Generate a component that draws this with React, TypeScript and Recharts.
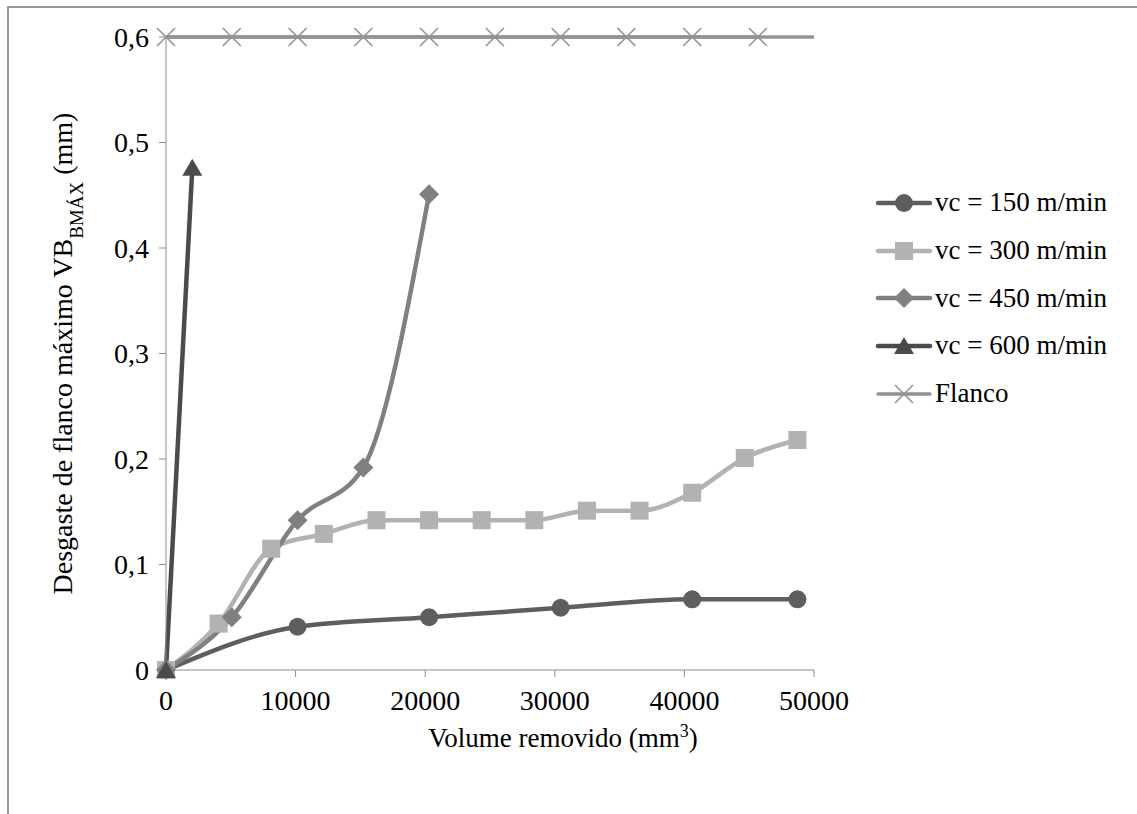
import React from "react";
import { LineChart, Line, XAxis, YAxis, ReferenceLine } from "recharts";

const FONT = '"Liberation Serif", "Times New Roman", serif';

// vc = 150 m/min
const vc150X = [0, 10150, 20300, 30450, 40600, 48720];
const vc150Y = [0, 0.041, 0.05, 0.059, 0.067, 0.067];

// vc = 300 m/min
const vc300X = [0, 4060, 8120, 12180, 16240, 20300, 24360, 28420, 32480, 36540, 40600, 44660, 48720];
const vc300Y = [0, 0.044, 0.115, 0.129, 0.142, 0.142, 0.142, 0.142, 0.151, 0.151, 0.168, 0.201, 0.218];

// vc = 450 m/min
const vc450X = [0, 5075, 10150, 15225, 20300];
const vc450Y = [0, 0.05, 0.142, 0.192, 0.451];

// vc = 600 m/min
const vc600X = [0, 2030];
const vc600Y = [0, 0.476];

// criterio de fim de vida (flanco)
const flancoX = [0, 5075, 10150, 15225, 20300, 25375, 30450, 35525, 40600, 45675];
const flancoLimit = 0.6;

const xTicks = [0, 10000, 20000, 30000, 40000, 50000];
const yTicks = [0, 0.1, 0.2, 0.3, 0.4, 0.5, 0.6];

const toPoints = (xs: number[], ys: number[]) => xs.map((x, i) => ({ x, y: ys[i] }));

const C150 = "#5e5e5e";
const C300 = "#b2b2b2";
const C450 = "#808080";
const C600 = "#4b4b4b";
const CFLANCO = "#939393";
const AXIS = "#8c8c8c";

type Shape = "circle" | "square" | "diamond" | "triangle" | "cross";

const marker = (shape: Shape, color: string, cx: number, cy: number, key?: string) => {
  switch (shape) {
    case "circle":
      return <circle key={key} cx={cx} cy={cy} r={9} fill={color} />;
    case "square":
      return <rect key={key} x={cx - 9} y={cy - 9} width={18} height={18} fill={color} />;
    case "diamond":
      return (
        <polygon
          key={key}
          points={`${cx},${cy - 10} ${cx + 10},${cy} ${cx},${cy + 10} ${cx - 10},${cy}`}
          fill={color}
        />
      );
    case "triangle":
      return (
        <polygon
          key={key}
          points={`${cx},${cy - 9} ${cx + 10},${cy + 8} ${cx - 10},${cy + 8}`}
          fill={color}
        />
      );
    default:
      return (
        <g key={key} stroke={color} strokeWidth={1.6}>
          <line x1={cx - 9} y1={cy - 9} x2={cx + 9} y2={cy + 9} />
          <line x1={cx - 9} y1={cy + 9} x2={cx + 9} y2={cy - 9} />
        </g>
      );
  }
};

const dot = (shape: Shape, color: string) => (p: any) =>
  marker(shape, color, p.cx, p.cy, `${shape}-${p.index}`);

const series = [
  { name: "vc = 150 m/min", color: C150, shape: "circle" as Shape, width: 4.5 },
  { name: "vc = 300 m/min", color: C300, shape: "square" as Shape, width: 4.5 },
  { name: "vc = 450 m/min", color: C450, shape: "diamond" as Shape, width: 4.5 },
  { name: "vc = 600 m/min", color: C600, shape: "triangle" as Shape, width: 4.5 },
  { name: "Flanco", color: CFLANCO, shape: "cross" as Shape, width: 3.3 },
];

const fmtY = (v: number) => (v === 0 ? "0" : v.toFixed(1).replace(".", ","));

const XTitle = (props: any) => {
  const vb = props.viewBox;
  const cx = vb.x + vb.width / 2 + 73;
  return (
    <text x={cx} y={vb.y + 77} textAnchor="middle" fontFamily={FONT} fontSize={27} fill="#000">
      Volume removido (mm
      <tspan fontSize={18} baselineShift="super">3</tspan>
      )
    </text>
  );
};

const YTitle = (props: any) => {
  const vb = props.viewBox;
  const cy = vb.y + vb.height / 2;
  return (
    <text
      transform={`translate(64, ${cy}) rotate(-90)`}
      textAnchor="middle"
      fontFamily={FONT}
      fontSize={28}
      fill="#000"
    >
      Desgaste de flanco máximo VB
      <tspan fontSize={19} baselineShift="sub">BMÁX</tspan>
      <tspan> (mm)</tspan>
    </text>
  );
};

const LegendBox = () => (
  <div
    style={{
      position: "absolute",
      left: 867,
      top: 171,
      fontFamily: FONT,
      fontSize: 27,
      color: "#000",
    }}
  >
    {series.map((s) => (
      <div key={s.name} style={{ display: "flex", alignItems: "center", height: 47.7 }}>
        <svg width={60} height={30} style={{ display: "block" }}>
          <line x1={3} y1={15} x2={55} y2={15} stroke={s.color} strokeWidth={s.width} strokeLinecap="round" />
          {marker(s.shape, s.color, 29, 15)}
        </svg>
        <span style={{ lineHeight: 1 }}>{s.name}</span>
      </div>
    ))}
  </div>
);

export default function App() {
  return (
    <div style={{ position: "relative", width: 1129, height: 798, background: "#fff" }}>
      <LineChart width={1129} height={798} margin={{ top: 29, right: 323, bottom: 0, left: 0 }}>
        <XAxis
          type="number"
          dataKey="x"
          domain={[0, 50000]}
          ticks={xTicks}
          interval={0}
          height={136}
          tickSize={7}
          tickMargin={13}
          stroke={AXIS}
          tick={{ fill: "#000", fontSize: 28, fontFamily: FONT }}
          label={XTitle}
        />
        <YAxis
          type="number"
          dataKey="y"
          domain={[0, 0.6]}
          ticks={yTicks}
          interval={0}
          width={158}
          tickSize={7}
          tickMargin={10}
          stroke={AXIS}
          tickFormatter={fmtY}
          tick={{ fill: "#000", fontSize: 28, fontFamily: FONT }}
          label={YTitle}
        />
        <ReferenceLine y={flancoLimit} stroke={CFLANCO} strokeWidth={3.3} />
        <Line
          data={toPoints(vc150X, vc150Y)}
          dataKey="y"
          name="vc = 150 m/min"
          type="monotone"
          stroke={C150}
          strokeWidth={4.5}
          dot={dot("circle", C150)}
          isAnimationActive={false}
        />
        <Line
          data={toPoints(vc300X, vc300Y)}
          dataKey="y"
          name="vc = 300 m/min"
          type="monotone"
          stroke={C300}
          strokeWidth={4.5}
          dot={dot("square", C300)}
          isAnimationActive={false}
        />
        <Line
          data={toPoints(vc450X, vc450Y)}
          dataKey="y"
          name="vc = 450 m/min"
          type="monotone"
          stroke={C450}
          strokeWidth={4.5}
          dot={dot("diamond", C450)}
          isAnimationActive={false}
        />
        <Line
          data={toPoints(vc600X, vc600Y)}
          dataKey="y"
          name="vc = 600 m/min"
          type="linear"
          stroke={C600}
          strokeWidth={4.5}
          dot={dot("triangle", C600)}
          isAnimationActive={false}
        />
        <Line
          data={flancoX.map((x) => ({ x, y: flancoLimit }))}
          dataKey="y"
          name="Flanco"
          type="linear"
          stroke={CFLANCO}
          strokeWidth={3.3}
          dot={dot("cross", CFLANCO)}
          isAnimationActive={false}
        />
      </LineChart>
      <LegendBox />
      {/* chart-area frame: fixed so it can run to the bottom edge without scrolling */}
      <div
        style={{
          position: "fixed",
          left: 7,
          top: 6,
          width: 1130,
          height: 820,
          borderTop: "2px solid #9a9a9a",
          borderLeft: "2px solid #9a9a9a",
          pointerEvents: "none",
        }}
      />
    </div>
  );
}
